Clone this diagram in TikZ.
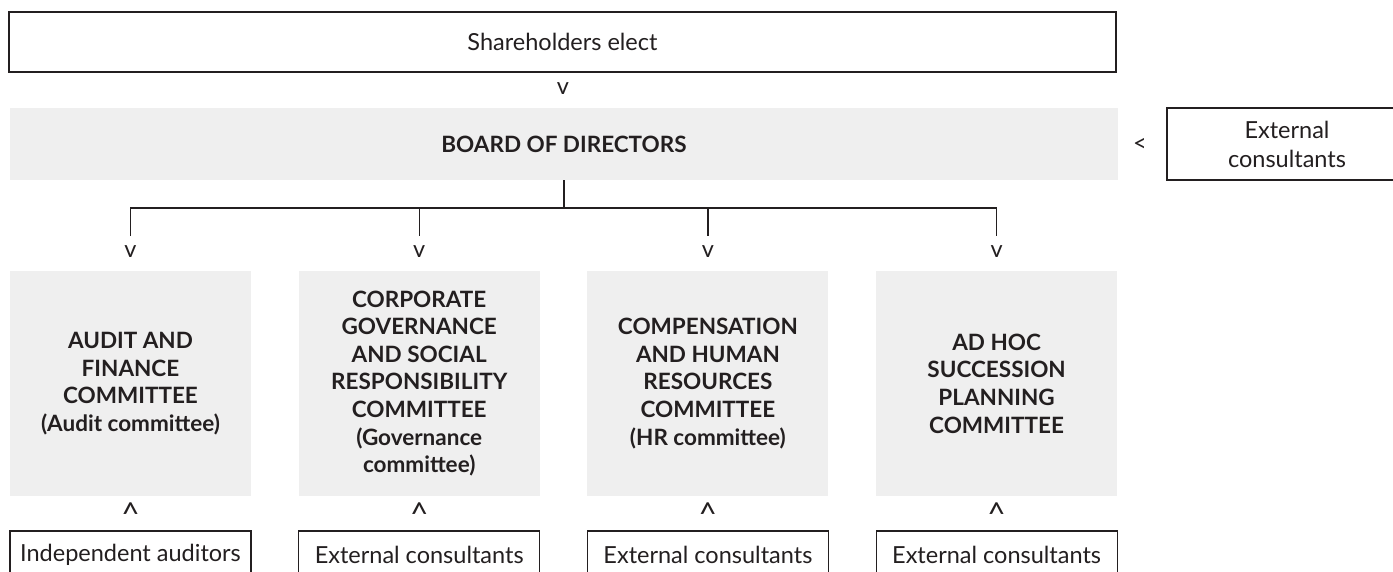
\documentclass[tikz,border=0pt]{standalone}
\usepackage{fontspec}
\setmainfont{Lato}
\definecolor{ink}{HTML}{231F20}
\definecolor{panel}{HTML}{EFEFEF}
\begin{document}
\begin{tikzpicture}[x=1pt,y=-1pt,
  every node/.style={text=ink, inner sep=0pt, outer sep=0pt},
  plain/.style={font=\fontsize{23.5}{29}\selectfont},
  strong/.style={font=\bfseries\fontsize{22.5}{27.6}\selectfont, align=center},
  outline/.style={plain, draw=ink, line width=1.2pt, fill=white, anchor=north west, align=center},
  panelbox/.style={strong, fill=panel, anchor=north west},
  glyph/.style={plain},
  wire/.style={draw=ink, line width=1.2pt}]
\useasboundingbox (0,0) rectangle (1393,571);
\clip (0,0) rectangle (1393,571);

% top level
\node[outline, minimum width=1107pt, minimum height=60pt] (share) at (9,12) {Shareholders elect};
\node[glyph] (g0) at (563,89) {v};
\node[panelbox, minimum width=1108pt, minimum height=72pt] (board) at (10,108) {BOARD OF DIRECTORS};
\node[glyph] (gx) at (1140,145) {<};
\node[outline, minimum width=240pt, minimum height=72pt] (extc) at (1167,108) {External\\consultants};

% committees
\foreach \i/\txt in {
  1/{AUDIT AND\\FINANCE\\COMMITTEE\\(Audit committee)},
  2/{CORPORATE\\GOVERNANCE\\AND SOCIAL\\RESPONSIBILITY\\COMMITTEE\\(Governance\\committee)},
  3/{COMPENSATION\\AND HUMAN\\RESOURCES\\COMMITTEE\\(HR committee)},
  4/{AD HOC\\SUCCESSION\\PLANNING\\COMMITTEE}} {
  \pgfmathsetmacro{\lx}{10+288.7*(\i-1)}
  \node[panelbox, minimum width=241pt, minimum height=225pt] (c\i) at (\lx,271) {\txt};
  \node[glyph] (v\i) at (c\i.north |- 0,252) {v};
  \node[glyph] (u\i) at (c\i.south |- 0,514) {\scalebox{1.35}{\textasciicircum}};
  \coordinate (b\i) at (c\i.north |- 0,236);
  \coordinate (h\i) at (c\i.north |- 0,208);
}

% advisers below each committee (boxes run off the lower edge)
\node[outline, minimum width=241pt, minimum height=48pt] (a1) at (c1.south west |- 0,531) {Independent auditors};
\foreach \i in {2,3,4} {
  \node[outline, minimum width=241pt, minimum height=48pt] (a\i) at (c\i.south west |- 0,531) {External consultants};
}

% connectors from the board to the committees
\coordinate (trunk) at (board.south |- 0,208);
\draw[wire] (board.south) -- (trunk);
\draw[wire] (b1) -- (h1) -- (h4) -- (b4);
\draw[wire] (h2) -- (b2);
\draw[wire] (h3) -- (b3);
\end{tikzpicture}
\end{document}
